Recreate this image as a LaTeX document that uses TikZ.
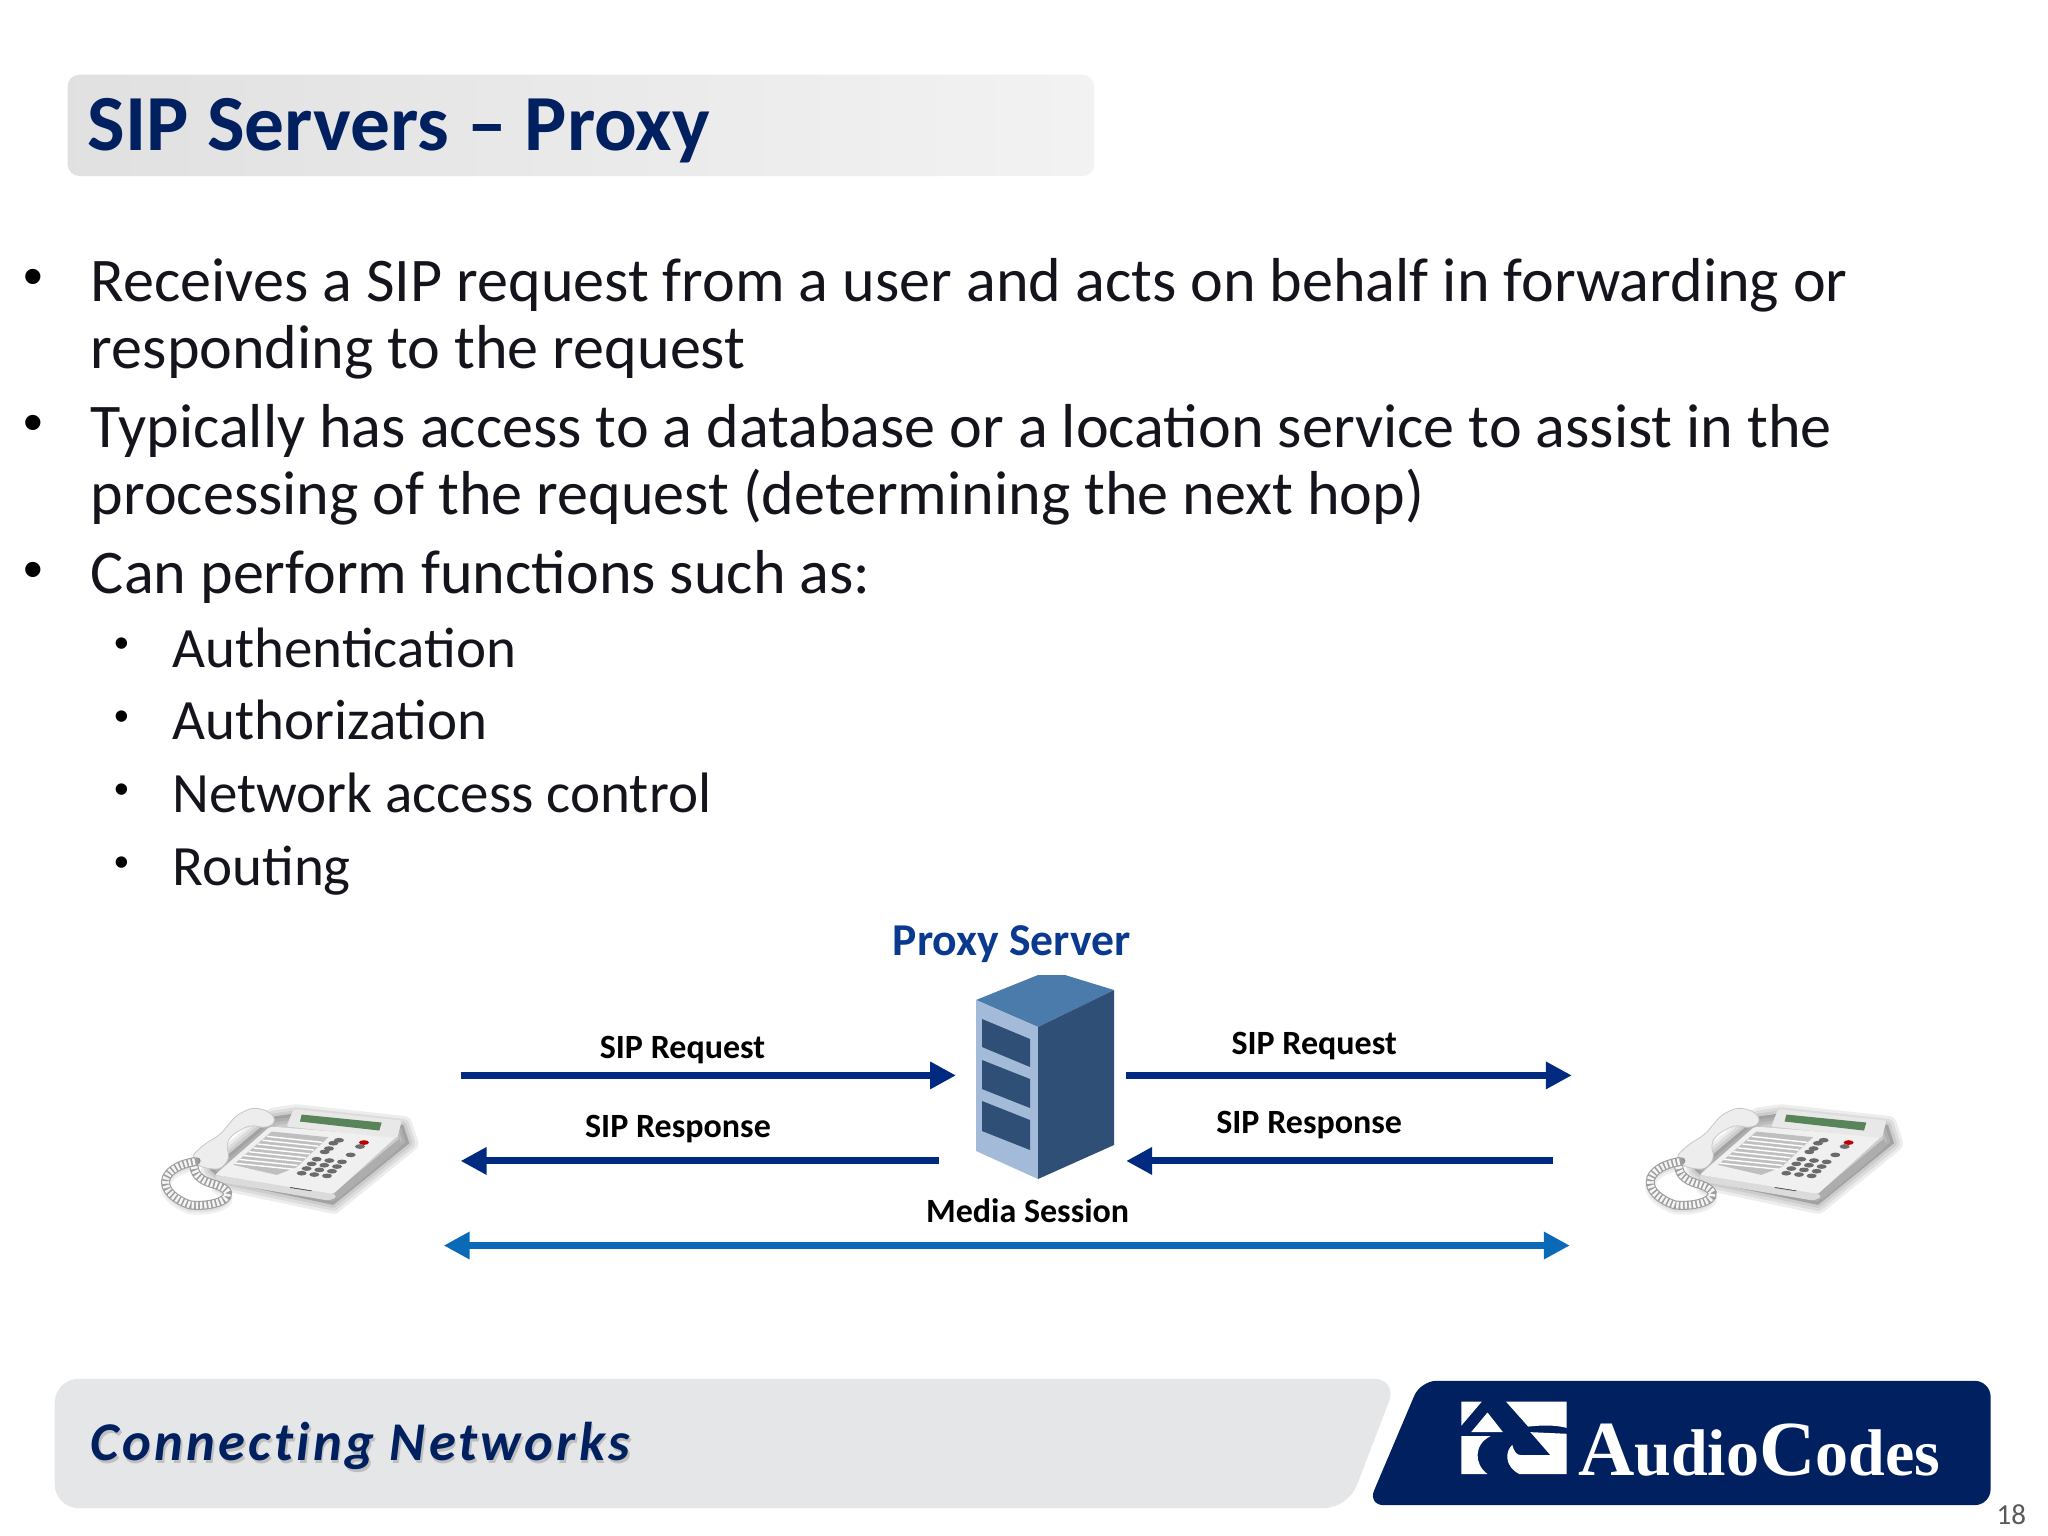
\documentclass[tikz,border=0pt]{standalone}
\usepackage{fontspec}
\setmainfont{Carlito}
\newfontfamily\bulletfont{Liberation Sans}
\newfontfamily\logofont{Liberation Serif}
\newfontfamily\tagfont[LetterSpace=6,Ligatures={NoCommon}]{Carlito}
\usetikzlibrary{arrows.meta,calc}
\definecolor{navy}{HTML}{002060}
\definecolor{arrownavy}{HTML}{002A7F}
\definecolor{mediablue}{HTML}{0A6AB8}
\definecolor{proxyblue}{HTML}{0A3A8F}
\definecolor{bodyink}{HTML}{14141C}
\definecolor{srvtop}{HTML}{4B7BAB}
\definecolor{srvdark}{HTML}{2F4F77}
\definecolor{srvfront}{HTML}{A3BBD9}
\definecolor{footgray}{HTML}{E5E6E8}
\tikzset{
  x=0.4974pt,y=-0.4974pt,
  line1/.style={anchor=base west,inner sep=0pt,font=\fontsize{31.05}{31.05}\selectfont,text=bodyink},
  line2/.style={anchor=base west,inner sep=0pt,font=\fontsize{28.5}{28.5}\selectfont,text=bodyink},
  bul1/.style={anchor=center,inner sep=0pt,font=\bulletfont\fontsize{28}{28}\selectfont,text=black},
  bul2/.style={anchor=center,inner sep=0pt,font=\bulletfont\fontsize{21}{21}\selectfont,text=black},
  lbl/.style={anchor=center,inner sep=0pt,font=\bfseries\fontsize{17}{17}\selectfont,text=black},
  sig/.style={draw=arrownavy,line width=3.5pt,-{Triangle[length=13pt,width=13pt,fill=arrownavy]}},
  media/.style={draw=mediablue,line width=3.5pt,{Triangle[length=13pt,width=13pt,fill=mediablue]}-{Triangle[length=13pt,width=13pt,fill=mediablue]}},
}
\newcommand{\phonedraw}{%
  % soft shadow
  \foreach \w in {9,6,3}{
    \filldraw[black,opacity=.07,line width=\w pt,line join=round] (310,305)--(640,375)--(868,190)--(850,135)--(530,100)--(460,110)--(270,270)--cycle;}
  \foreach \w in {5,2.5}{
    \draw[black,opacity=.06,line width=\w pt,line cap=round] (225,258) .. controls (110,278) and (110,353) .. (210,388) .. controls (290,398) and (370,358) .. (290,328);}
  % side and front of the body
  \fill[black!32,rounded corners=1pt] (640,340)--(840,175)--(842,200)--(810,230)--(650,360)--cycle;
  \fill[black!14,rounded corners=1pt] (285,285)--(640,340)--(650,352)--(625,362)--(290,305)--cycle;
  \fill[black!70] (512,318)--(578,328)--(574,334)--(510,324)--cycle;
  % top face
  \fill[black!6,rounded corners=1pt] (285,285)--(450,140)--(830,170)--(640,342)--cycle;
  % display
  \fill[black!9,rounded corners=1pt] (520,88)--(845,122)--(832,175)--(500,140)--cycle;
  \fill[black!45!green!30!gray] (545,104)--(785,128)--(778,152)--(540,125)--cycle;
  % label keys
  \fill[black!25] (340,255)--(455,155)--(625,172)--(530,262)--(470,285)--cycle;
  \foreach \i in {0,...,7}{\draw[white,line width=.7pt] ($(345,250)!{\i/8}!(455,158)$)--($(520,268)!{\i/8}!(620,176)$);}
  % dial pad
  \foreach \r in {0,1,2,3}{\foreach \c in {0,1,2}{
    \fill[black!58] ({590+\c*38-\r*15},{238+\c*4+\r*14}) ellipse [x radius=15,y radius=7];
  }}
  \foreach \a/\b in {657/181,640/190,627/206,614/216,720/200,692/225}{\fill[black!58] (\a,\b) ellipse [x radius=15,y radius=7];}
  \fill[red!75!black] (732,188) ellipse [x radius=15,y radius=7];
  % handset
  \filldraw[fill=black!7,draw=black!22,line width=.4pt,rounded corners=3pt] (212,232)--(250,195)--(300,165)--(350,105)--(400,82)--(450,95)--(470,125)--(440,145)--(390,135)--(335,165)--(318,195)--(330,235)--(300,270)--(240,262)--cycle;
  \fill[black!45] (232,243) circle [radius=10];
  % cord
  \draw[black!38,line width=4.5pt,line cap=round] (225,245) .. controls (110,265) and (110,340) .. (210,375) .. controls (290,385) and (370,345) .. (290,315) .. controls (250,305) and (225,290) .. (222,260);
  \draw[black!4,line width=3.4pt,dash pattern=on 1.2pt off .9pt] (225,245) .. controls (110,265) and (110,340) .. (210,375) .. controls (290,385) and (370,345) .. (290,315) .. controls (250,305) and (225,290) .. (222,260);
}
\begin{document}
\begin{tikzpicture}
\useasboundingbox (0,0) rectangle (2058.7,1544);
\fill[white] (0,0) rectangle (2058.7,1544);
% title
\shade[left color=black!12,right color=black!5,rounded corners=6pt] (68,75) rectangle (1100,177);
\node[anchor=base west,inner sep=0pt,font=\bfseries\fontsize{39.75}{39.75}\selectfont,text=navy] (title) at (88,151) {SIP Servers – Proxy};
% body
\node[bul1] (b1) at (33,284) {•};
\node[line1] (t1) at (91,303) {Receives a SIP request from a user and acts on behalf in forwarding or};
\node[line1] (t1b) at (91,370) {responding to the request};
\node[bul1] (b2) at (33,431) {•};
\node[line1] (t2) at (91,450) {Typically has access to a database or a location service to assist in the};
\node[line1] (t2b) at (91,517) {processing of the request (determining the next hop)};
\node[bul1] (b3) at (33,578) {•};
\node[line1] (t3) at (91,597) {Can perform functions such as:};
\node[bul2] (s1b) at (122,651) {•};
\node[line2] (s1) at (173,671) {Authentication};
\node[bul2] (s2b) at (122,724) {•};
\node[line2] (s2) at (173,743) {Authorization};
\node[bul2] (s3b) at (122,798) {•};
\node[line2] (s3) at (173,817) {Network access control};
\node[bul2] (s4b) at (122,871) {•};
\node[line2] (s4) at (173,890) {Routing};
% diagram labels
\node[anchor=center,inner sep=0pt,font=\bfseries\fontsize{22.8}{22.8}\selectfont,text=proxyblue] (proxy) at (1017,949) {Proxy Server};
\node[lbl] (l1) at (686,1055) {SIP Request};
\node[lbl] (l2) at (681.5,1135) {SIP Response};
\node[lbl] (l3) at (1321,1051) {SIP Request};
\node[lbl] (l4) at (1316,1131) {SIP Response};
\node[lbl] (l5) at (1033,1217) {Media Session};
% server
\begin{scope}[x=0.5pt,y=-0.5pt]
\fill[srvtop] (976,1000)--(1038,975)--(1065,975)--(1114,990)--(1038,1027)--cycle;
\fill[srvfront] (976,1000)--(1038,1027)--(1038,1179)--(976,1151)--cycle;
\fill[srvdark] (1038,1027)--(1114,990)--(1114,1145)--(1038,1179)--cycle;
\fill[srvdark] (982,1019)--(1030,1039)--(1030,1067)--(982,1047)--cycle;
\fill[srvdark] (982,1060)--(1030,1079)--(1030,1108)--(982,1089)--cycle;
\fill[srvdark] (982,1101)--(1030,1120)--(1030,1150)--(982,1131)--cycle;
\end{scope}
% arrows
\coordinate (a1s) at (463,1081); \coordinate (a1e) at (961,1081);
\coordinate (a2s) at (944,1167); \coordinate (a2e) at (463,1167);
\coordinate (a3s) at (1132,1081); \coordinate (a3e) at (1580,1081);
\coordinate (a4s) at (1561,1167); \coordinate (a4e) at (1132,1167);
\coordinate (m1) at (446,1252); \coordinate (m2) at (1578,1252);
\draw[sig] (a1s)--(a1e);
\draw[sig] (a2s)--(a2e);
\draw[sig] (a3s)--(a3e);
\draw[sig] (a4s)--(a4e);
\draw[media] (m1)--(m2);
% phones
\begin{scope}[shift={(120.6,1085.5)},x=0.16667pt,y=-0.16667pt]\phonedraw\end{scope}
\begin{scope}[shift={(1613,1085.5)},x=0.16667pt,y=-0.16667pt]\phonedraw\end{scope}
% footer
\fill[footgray,rounded corners=12pt] (55,1386)--(1405,1386)--(1355,1516)--(55,1516)--cycle;
\node[anchor=base west,inner sep=0pt,font=\tagfont\bfseries\itshape\fontsize{27.3}{27.3}\selectfont,text=black!25] (tagshadow) at (92.5,1471) {Connecting Networks};
\node[anchor=base west,inner sep=0pt,font=\tagfont\bfseries\itshape\fontsize{27.3}{27.3}\selectfont,text=navy] (tag) at (91,1468) {Connecting Networks};
% logo
\fill[navy,rounded corners=8pt] (1428,1388)--(2001,1388)--(2001,1513)--(1375,1513)--cycle;
\begin{scope}[shift={(1469,1409)},x=0.2212pt,y=-0.1637pt]
\fill[white] (0,0)--(46,0)--(0,73)--cycle;
\fill[white] (59,33)--(94,93)--(22,93)--cycle;
\fill[white] (0,105)--(66,105) .. controls (28,130) and (28,190) .. (59,221)--(0,221)--cycle;
\fill[white] (101,0)--(238,0)--(238,80) .. controls (210,70) and (180,72) .. (151,76)--cycle;
\fill[white] (156,93)--(238,98)--(238,221)--(131,221) .. controls (95,195) and (100,150) .. (115,132) .. controls (120,155) and (125,163) .. (135,163)--(201,163)--cycle;
\end{scope}
\node[anchor=base west,inner sep=0pt,font=\logofont\bfseries\fontsize{33}{33}\selectfont,text=white] (logo) at (1586,1483) {{\fontsize{39}{39}\selectfont A}udio{\fontsize{39}{39}\selectfont C}odes};
% page number
\node[anchor=base east,inner sep=0pt,font=\fontsize{14.5}{14.5}\selectfont,text=black!65] (page) at (2037,1532) {18};
\end{tikzpicture}
\end{document}
